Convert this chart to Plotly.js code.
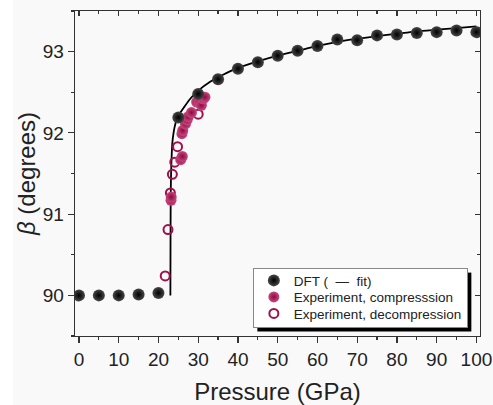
<!DOCTYPE html>
<html>
<head>
<meta charset="utf-8">
<script src="https://cdn.plot.ly/plotly-3.0.1.min.js"></script>
<style>
  html, body { margin: 0; padding: 0; background: #ffffff; }
  #chart { position: absolute; left: 13px; top: 0; width: 480px; height: 405px; }
</style>
</head>
<body>
<div id="chart"></div>
<script>
// DFT calculated points
const dftP = [0, 5, 10, 15, 20, 25, 30, 35, 40, 45, 50, 55, 60, 65, 70, 75, 80, 85, 90, 95, 100];
const dftBeta = [90.0, 90.0, 90.0, 90.01, 90.03, 92.19, 92.48, 92.66, 92.79, 92.87, 92.95, 93.01, 93.07, 93.15, 93.14, 93.2, 93.21, 93.23, 93.24, 93.26, 93.24];

// Fit curve
const fitP = [23.0, 23.03, 23.06, 23.1, 23.2, 23.35, 23.5, 23.8, 24.1, 24.5, 25.0, 25.5, 26.5, 28, 30, 33, 36, 40, 45, 50, 55, 60, 65, 70, 75, 80, 85, 90, 95, 100];
const fitBeta = [90.0, 90.6, 91.0, 91.3, 91.55, 91.75, 91.88, 92.0, 92.08, 92.15, 92.2, 92.25, 92.32, 92.42, 92.52, 92.63, 92.71, 92.8, 92.88, 92.95, 93.01, 93.07, 93.12, 93.16, 93.19, 93.22, 93.25, 93.27, 93.29, 93.31];

// Experiment, compression (filled)
const compP = [23.15, 23.2, 25.6, 26.0, 25.9, 26.1, 26.8, 27.2, 27.5, 28.3, 29.6, 30.3, 30.8, 31.3, 31.7];
const compBeta = [91.17, 91.21, 91.67, 91.71, 91.99, 92.03, 92.11, 92.16, 92.2, 92.25, 92.38, 92.37, 92.34, 92.42, 92.44];

// Experiment, decompression (open)
const decP = [21.7, 22.4, 23.0, 23.5, 24.1, 24.8, 30.0];
const decBeta = [90.24, 90.81, 91.26, 91.49, 91.64, 91.83, 92.23];

const xTickVals = [0, 10, 20, 30, 40, 50, 60, 70, 80, 90, 100];
const xTickText = ['0', '10', '20', '30', '40', '50', '60', '70', '80', '90', '100'];
const yTickVals = [90, 91, 92, 93];
const yTickText = ['90', '91', '92', '93'];

const magenta = '#a0104c';
const font = 'Arial, "Liberation Sans", sans-serif';
const xRange = [-1.0, 100.9];
const yRange = [89.5, 93.5];

const traces = [
  {
    x: fitP, y: fitBeta, type: 'scatter', mode: 'lines',
    line: {color: '#000000', width: 1.8, shape: 'spline', smoothing: 0.6},
    showlegend: false, hoverinfo: 'skip'
  },
  {
    x: decP, y: decBeta, type: 'scatter', mode: 'markers',
    name: 'Experiment, decompression',
    marker: {symbol: 'circle-open', size: 9, color: magenta, line: {width: 2, color: magenta}}
  },
  {
    x: compP, y: compBeta, type: 'scatter', mode: 'markers',
    name: 'Experiment, compresssion',
    marker: {symbol: 'circle', size: 11, color: '#c8487f',
             gradient: {type: 'radial', color: '#8c0a40'}, line: {width: 0}}
  },
  {
    x: dftP, y: dftBeta, type: 'scatter', mode: 'markers',
    name: 'DFT (  \u2014  fit)',
    marker: {symbol: 'circle', size: 12, color: '#484848',
             gradient: {type: 'radial', color: '#000000'}, line: {width: 0}}
  },
  // carrier for the mirrored top/right axes (no marks)
  {
    x: [], y: [], type: 'scatter', mode: 'markers',
    xaxis: 'x2', yaxis: 'y2', showlegend: false, hoverinfo: 'skip'
  }
];

const axisCommon = {
  showline: true, linecolor: '#333333', linewidth: 1.3,
  showgrid: false, zeroline: false,
  tickcolor: '#333333', tickwidth: 1.2,
  tickfont: {family: font, size: 19, color: '#222222'}
};

const layout = {
  width: 480, height: 405,
  margin: {l: 62, r: 13, t: 11, b: 69},
  paper_bgcolor: '#f9f9f9',
  plot_bgcolor: '#f9f9f9',
  font: {family: font, color: '#222222'},
  showlegend: true,
  legend: {
    x: 0.97, y: 0.04, xanchor: 'right', yanchor: 'bottom',
    bgcolor: '#ffffff', bordercolor: '#888888', borderwidth: 1,
    font: {family: font, size: 13.5, color: '#222222'},
    traceorder: 'reversed', itemwidth: 30
  },
  xaxis: Object.assign({}, axisCommon, {
    range: xRange,
    tickmode: 'array', tickvals: xTickVals, ticktext: xTickText,
    ticks: 'outside', ticklen: 6,
    minor: {dtick: 5, tick0: 0, ticks: 'outside', ticklen: 3, tickcolor: '#333333'},
    title: {text: 'Pressure (GPa)', font: {family: font, size: 24, color: '#222222'}, standoff: 14}
  }),
  yaxis: Object.assign({}, axisCommon, {
    range: yRange,
    tickmode: 'array', tickvals: yTickVals, ticktext: yTickText,
    ticks: 'outside', ticklen: 6,
    minor: {dtick: 0.5, tick0: 90, ticks: 'outside', ticklen: 3, tickcolor: '#333333'},
    title: {text: '<i>β</i> (degrees)', font: {family: font, size: 24, color: '#222222'}, standoff: 8}
  }),
  xaxis2: Object.assign({}, axisCommon, {
    overlaying: 'x', side: 'top', anchor: 'y2',
    range: xRange,
    tickmode: 'array', tickvals: xTickVals, showticklabels: false,
    ticks: 'inside', ticklen: 5,
    minor: {dtick: 5, tick0: 0, ticks: 'inside', ticklen: 3, tickcolor: '#333333'}
  }),
  yaxis2: Object.assign({}, axisCommon, {
    overlaying: 'y', side: 'right', anchor: 'x2',
    range: yRange,
    tickmode: 'array', tickvals: yTickVals, showticklabels: false,
    ticks: 'inside', ticklen: 5,
    minor: {dtick: 0.5, tick0: 90, ticks: 'inside', ticklen: 3, tickcolor: '#333333'}
  })
};

function parseT(el) {
  const t = el.getAttribute('transform') || '';
  const m = /translate\(\s*([-\d.e]+)[ ,]+([-\d.e]+)\s*\)/.exec(t);
  return m ? [parseFloat(m[1]), parseFloat(m[2])] : [0, 0];
}

function styleLegend(gd) {
  const lg = gd.querySelector('g.legend');
  if (!lg) return;
  const bg = lg.querySelector('rect.bg');
  const items = Array.from(lg.querySelectorAll('g.traces'));
  if (!bg || items.length < 2) return;
  // tighten row spacing and padding to match the reference legend
  const rows = items.map(it => ({it: it, p: parseT(it)})).sort((a, b) => a.p[1] - b.p[1]);
  const oldGap = rows[1].p[1] - rows[0].p[1];
  const gap = 16.5;
  const pad = 3;
  const shrink = (oldGap - gap) * (rows.length - 1) + 2 * pad;
  const y0 = rows[0].p[1] - 1 - pad;
  rows.forEach((r, i) => r.it.setAttribute('transform', 'translate(' + r.p[0] + ',' + (y0 + i * gap) + ')'));
  const h = parseFloat(bg.getAttribute('height')) - shrink;
  bg.setAttribute('height', h);
  // bottom edge 5px lower than Plotly put it
  const lp = parseT(lg);
  const ny = lp[1] + shrink + 5;
  lg.setAttribute('transform', 'translate(' + lp[0] + ',' + ny + ')');
  // drop shadow, inserted in the parent layer so it is never clipped
  const w = parseFloat(bg.getAttribute('width'));
  const bx = parseFloat(bg.getAttribute('x') || 0), by = parseFloat(bg.getAttribute('y') || 0);
  const ns = 'http://www.w3.org/2000/svg';
  const sh = document.createElementNS(ns, 'rect');
  sh.setAttribute('x', lp[0] + bx + 4);
  sh.setAttribute('y', ny + by + 4);
  sh.setAttribute('width', w);
  sh.setAttribute('height', h);
  sh.setAttribute('fill', '#000000');
  lg.parentNode.insertBefore(sh, lg);
}

Plotly.newPlot('chart', traces, layout, {displayModeBar: false, staticPlot: true}).then(function (gd) {
  styleLegend(gd);
});
</script>
</body>
</html>
